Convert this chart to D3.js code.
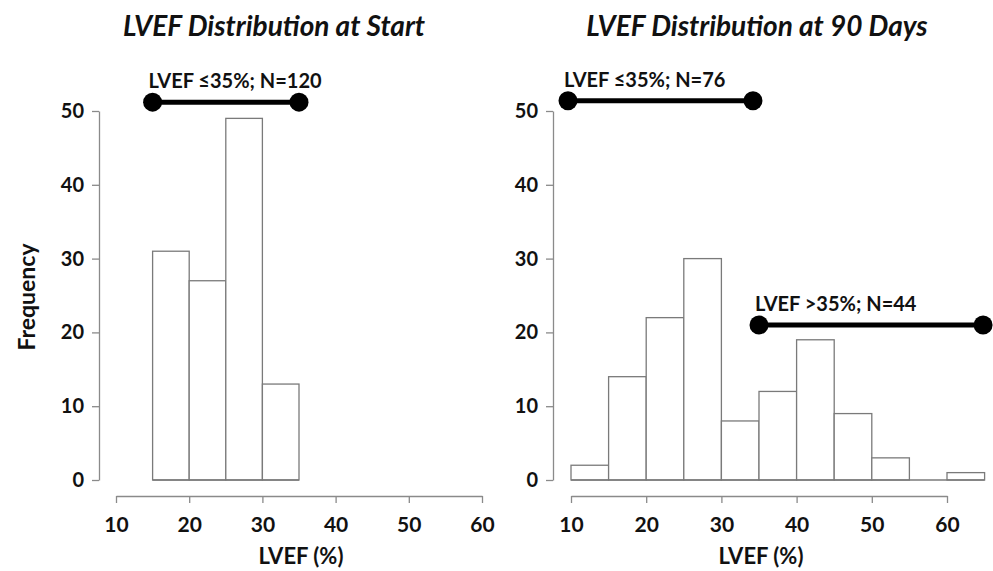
<!DOCTYPE html>
<html lang="en">
<head>
    <meta charset="utf-8">
    <title>LVEF Distribution</title>
    <script src="https://cdn.jsdelivr.net/npm/d3@7"></script>
</head>
<style>
    body { margin: 0; background: #fff; }
    text { font-family: Lato, "Open Sans", sans-serif; }
    .domain, .tick line { stroke: #8a8a8a; stroke-width: 1.3; }
    .tick text { font-weight: bold; fill: #111; }
</style>
<body>
<script type="text/javascript">
    // bins are 5 units wide, starting at binStart
    var binStartStart = 15;
    var countsStart = [31, 27, 49, 13];
    var binStart90 = 10;
    var counts90 = [2, 14, 22, 30, 8, 12, 19, 9, 3, 0, 1];
    var xTicks = [10, 20, 30, 40, 50, 60];
    var yTicks = [0, 10, 20, 30, 40, 50];
    // range bars: [from, to, height, label]
    var rangesStart = [[15, 35, 51.2, "LVEF \u226435%; N=120"]];
    var ranges90 = [[9.6, 34.2, 51.4, "LVEF \u226435%; N=76"], [35, 64.8, 21, "LVEF >35%; N=44"]];
    var titles = ["LVEF Distribution at Start", "LVEF Distribution at 90 Days"];

    var width = 993, height = 571;
    var svg = d3.select("body").append("svg")
        .attr("width", width)
        .attr("height", height);

    var panels = [
        { x0: 116, x1: 482, yAxisX: 99, titleX: 274, bin0: binStartStart, counts: countsStart, ranges: rangesStart, title: titles[0] },
        { x0: 571, x1: 947, yAxisX: 553, titleX: 757, bin0: binStart90, counts: counts90, ranges: ranges90, title: titles[1] }
    ];

    var y = d3.scaleLinear().domain([0, 50]).range([480, 111]);

    panels.forEach(function (p) {
        var x = d3.scaleLinear().domain([10, 60]).range([p.x0, p.x1]);
        var g = svg.append("g");

        // bars
        var bins = p.counts.map((c, i) => ({ lo: p.bin0 + i * 5, hi: p.bin0 + i * 5 + 5, c: c }));
        g.selectAll("rect")
            .data(bins.filter(d => d.c > 0))
            .join("rect")
            .attr("x", d => x(d.lo))
            .attr("width", d => x(d.hi) - x(d.lo))
            .attr("y", d => y(d.c))
            .attr("height", d => y(0) - y(d.c))
            .attr("fill", "white")
            .attr("stroke", "#7a7a7a")
            .attr("stroke-width", 1.3);
        // baseline for empty bins
        g.append("line")
            .attr("x1", x(bins[0].lo)).attr("x2", x(bins[bins.length - 1].hi))
            .attr("y1", y(0)).attr("y2", y(0))
            .attr("stroke", "#7a7a7a").attr("stroke-width", 1.3);

        // y axis
        g.append("g")
            .attr("transform", `translate(${p.yAxisX},0)`)
            .call(d3.axisLeft(y).tickValues(yTicks).tickSize(7).tickPadding(8).tickSizeOuter(0))
            .selectAll(".tick text").attr("font-size", 20);

        // x axis
        g.append("g")
            .attr("transform", "translate(0,496)")
            .call(d3.axisBottom(x).tickValues(xTicks).tickSize(7).tickPadding(14).tickSizeOuter(0))
            .selectAll(".tick text").attr("font-size", 21);

        g.append("text")
            .attr("x", (p.x0 + p.x1) / 2 + 2)
            .attr("y", 564)
            .attr("text-anchor", "middle")
            .attr("font-size", 22)
            .attr("font-weight", "bold")
            .attr("fill", "#111")
            .text("LVEF (%)");

        g.append("text")
            .attr("x", p.titleX)
            .attr("y", 36)
            .attr("text-anchor", "middle")
            .attr("font-size", 28)
            .attr("font-weight", "bold")
            .attr("font-style", "italic")
            .attr("fill", "#111")
            .text(p.title);

        // range dumbbells
        p.ranges.forEach(function (r) {
            var rg = g.append("g");
            rg.append("line")
                .attr("x1", x(r[0])).attr("x2", x(r[1]))
                .attr("y1", y(r[2])).attr("y2", y(r[2]))
                .attr("stroke", "black").attr("stroke-width", 5);
            rg.selectAll("circle")
                .data([r[0], r[1]])
                .join("circle")
                .attr("cx", d => x(d))
                .attr("cy", y(r[2]))
                .attr("r", 9.5)
                .attr("fill", "black");
            rg.append("text")
                .attr("x", x(r[0]) - 4)
                .attr("y", y(r[2]) - 14)
                .attr("font-size", 20)
                .attr("font-weight", "bold")
                .attr("fill", "#111")
                .text(r[3]);
        });
    });

    svg.append("text")
        .attr("transform", "translate(35,297) rotate(-90)")
        .attr("text-anchor", "middle")
        .attr("font-size", 23)
        .attr("font-weight", "bold")
        .attr("fill", "#111")
        .text("Frequency");
</script>
</body>
</html>
